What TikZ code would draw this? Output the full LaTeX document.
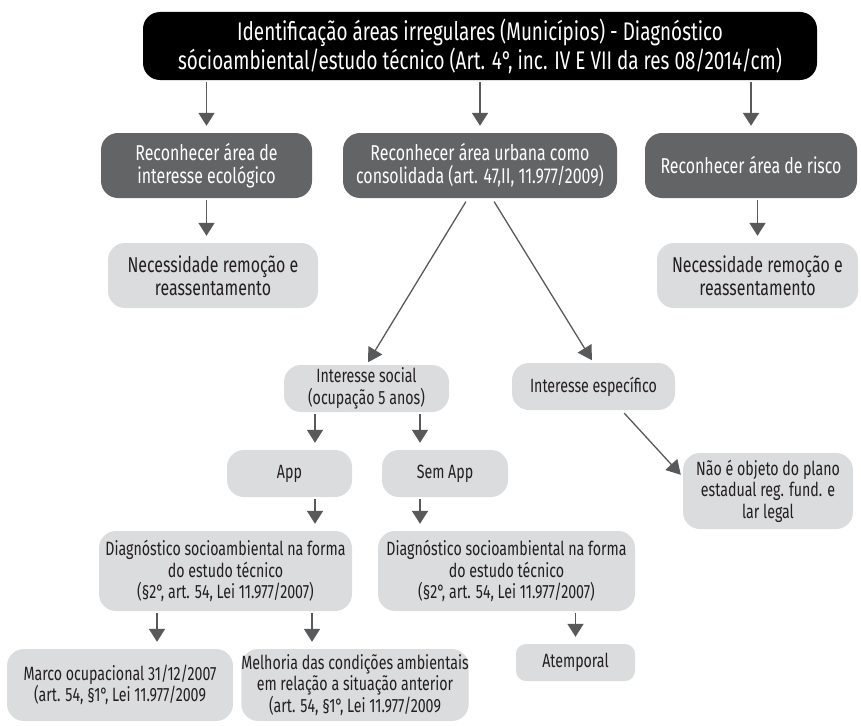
\documentclass[tikz,border=0pt]{standalone}
\usepackage{fontspec}
\setmainfont[FakeStretch=0.74]{Fira Sans}
\usetikzlibrary{arrows.meta}

\definecolor{boxdark}{HTML}{636466}
\definecolor{boxlight}{HTML}{DBDCDD}
\definecolor{arrowgray}{HTML}{58595B}
\definecolor{txtgray}{HTML}{231F20}

\tikzset{
  base/.style={rounded corners=17pt, align=center, inner sep=0pt},
  topbox/.style={base, fill=black, text=white, font=\fontsize{25.5}{27.5}\selectfont},
  darkbox/.style={base, fill=boxdark, text=white, font=\fontsize{21.5}{23}\selectfont},
  lightbox/.style={base, fill=boxlight, text=txtgray, font=\fontsize{21.5}{23}\selectfont},
  smallbox/.style={base, fill=boxlight, text=txtgray, font=\fontsize{19.2}{21.5}\selectfont},
  arr/.style={draw=arrowgray, line width=1.8pt, -{Triangle[width=16pt,length=13pt]}, shorten <=2pt, shorten >=7pt},
  diag/.style={draw=arrowgray, line width=1.3pt, -{Triangle[width=16pt,length=14pt]}, shorten <=4pt, shorten >=3pt}
}

\begin{document}
\begin{tikzpicture}[x=1pt,y=-1pt]
  \useasboundingbox (0,0) rectangle (861,725);
  % top
  \node[topbox, minimum width=674pt, minimum height=68pt] (top) at (480,46)
    {Identificação áreas irregulares (Municípios) - Diagnóstico\\sócioambiental/estudo técnico (Art. 4°, inc. IV E VII da res 08/2014/cm)};
  % second row
  \node[darkbox, minimum width=211pt, minimum height=65pt] (ecol) at (206.5,165.5) {Reconhecer área de\\interesse ecológico};
  \node[darkbox, minimum width=274pt, minimum height=65pt] (urb) at (480,165.5) {Reconhecer área urbana como\\consolidada (art. 47,II, 11.977/2009)};
  \node[darkbox, minimum width=212pt, minimum height=65pt] (risco) at (751,165.5) {Reconhecer área de risco};
  \node[lightbox, minimum width=210pt, minimum height=65pt] (remL) at (213,275.5) {Necessidade remoção e\\reassentamento};
  \node[lightbox, minimum width=201pt, minimum height=65pt] (remR) at (757.5,275.5) {Necessidade remoção e\\reassentamento};
  % interesse
  \node[smallbox, minimum width=165pt, minimum height=47pt] (isoc) at (366.5,388.5) {Interesse social\\(ocupação 5 anos)};
  \node[smallbox, minimum width=163pt, minimum height=47pt] (iesp) at (593.5,386.5) {Interesse específico};
  \node[smallbox, minimum width=170pt, minimum height=76pt] (nao) at (768,491) {Não é objeto do plano\\estadual reg. fund. e\\lar legal};
  \node[smallbox, minimum width=125pt, minimum height=47pt] (app) at (289.5,473.5) {App};
  \node[smallbox, minimum width=126pt, minimum height=47pt] (semapp) at (445,473.5) {Sem App};
  % diagnostico
  \node[smallbox, minimum width=253pt, minimum height=80pt] (diagA) at (225.5,571) {Diagnóstico socioambiental na forma\\do estudo técnico\\(§2°, art. 54, Lei 11.977/2007)};
  \node[smallbox, minimum width=257pt, minimum height=80pt] (diagB) at (506.5,571) {Diagnóstico socioambiental na forma\\do estudo técnico\\(§2°, art. 54, Lei 11.977/2007)};
  \node[smallbox, minimum width=226pt, minimum height=72pt] (marco) at (120,685) {Marco ocupacional 31/12/2007\\(art. 54, §1°, Lei 11.977/2009};
  \node[smallbox, minimum width=216pt, minimum height=72pt] (melh) at (355,685) {Melhoria das condições ambientais\\em relação a situação anterior\\(art. 54, §1°, Lei 11.977/2009};
  \node[smallbox, rounded corners=10pt, minimum width=119pt, minimum height=37pt] (atemp) at (575.5,662.5) {Atemporal};

  % connectors
  \draw[arr] (top.south -| ecol.north) -- (ecol.north);
  \draw[arr] (top.south -| urb.north) -- (urb.north);
  \draw[arr] (top.south -| risco.north) -- (risco.north);
  \draw[arr] (ecol.south) -- (remL.north -| ecol.south);
  \draw[arr] (risco.south -| remR.north) -- (remR.north);
  \draw[diag] ([xshift=-12pt]urb.south) -- (isoc.north);
  \draw[diag] ([xshift=12pt]urb.south) -- (iesp.north);
  \draw[diag] ([xshift=28pt]iesp.south) -- ([yshift=14pt]nao.west);
  \draw[arr] (isoc.south -| 315,0) -- (app.north -| 315,0);
  \draw[arr] (isoc.south -| 420,0) -- (semapp.north -| 420,0);
  \draw[arr] (app.south -| 315,0) -- (diagA.north -| 315,0);
  \draw[arr] (semapp.south -| 420,0) -- (diagB.north -| 420,0);
  \draw[arr] (diagA.south -| 157,0) -- (marco.north -| 157,0);
  \draw[arr] (diagA.south -| 312,0) -- (melh.north -| 312,0);
  \draw[arr] (diagB.south -| atemp.north) -- (atemp.north);
\end{tikzpicture}
\end{document}
